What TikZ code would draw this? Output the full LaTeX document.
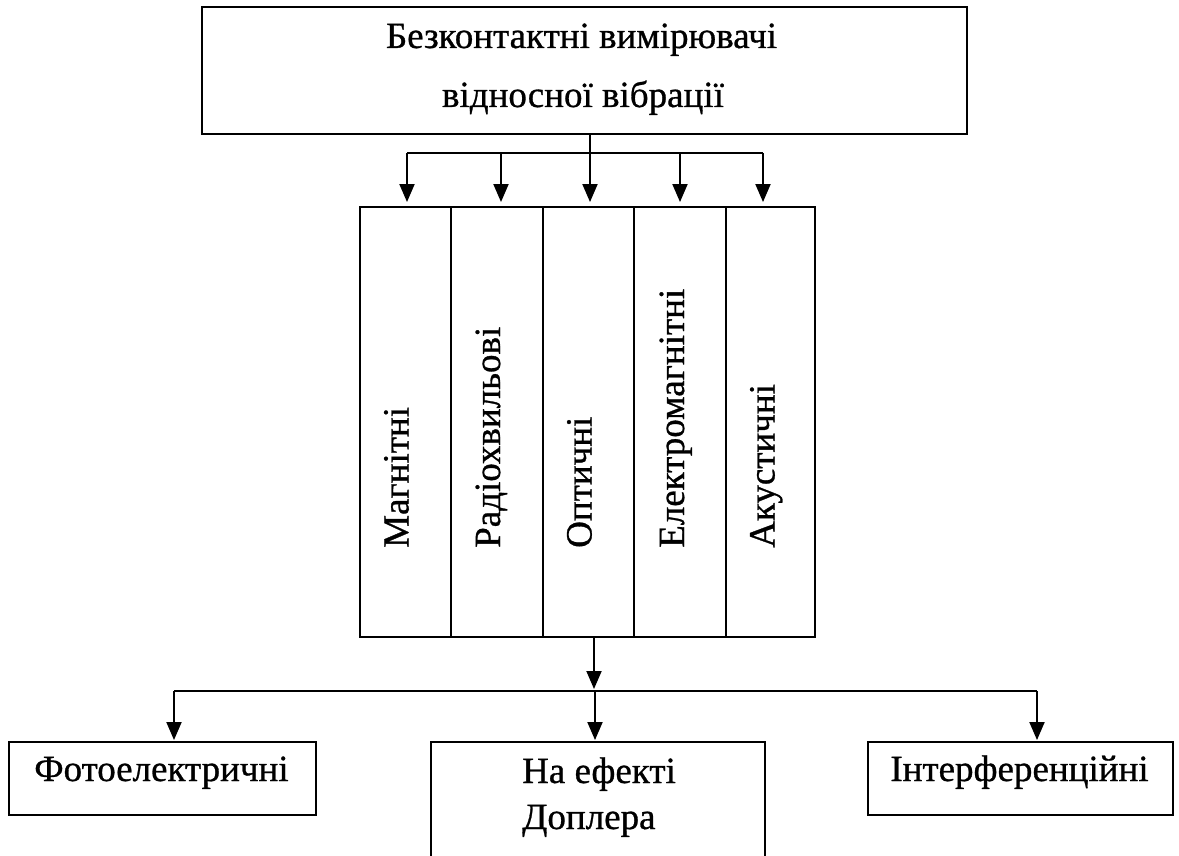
\documentclass[tikz,border=0pt]{standalone}
\usepackage{fontspec}
\setmainfont[FakeBold=0.8]{Liberation Serif}
\usetikzlibrary{arrows.meta}
\begin{document}
\begin{tikzpicture}[x=1pt,y=-1pt,
  box/.style={draw, line width=1.9pt, rectangle, inner sep=0pt},
  lbl/.style={font=\fontsize{37}{44}\selectfont, inner sep=0pt},
  vlbl/.style={lbl, rotate=90, anchor=base west},
  link/.style={line width=1.9pt},
  arr/.style={link, -{Triangle[width=15pt,length=18pt]}}
]
\clip (0,0) rectangle (1179,856);
\fill[white] (0,0) rectangle (1179,856);

% top heading box
\node[box, minimum width=765pt, minimum height=127pt] (top) at (584.5,70.5) {};
\node[lbl, anchor=base] (t1) at (581.5,48) {Безконтактні вимірювачі};
\node[lbl, anchor=base] (t2) at (583,107) {відносної вібрації};

% five vertical columns
\node[box, minimum width=91pt, minimum height=430pt] (c1) at (405.5,422) {};
\node[box, minimum width=92pt, minimum height=430pt] (c2) at (497,422) {};
\node[box, minimum width=91pt, minimum height=430pt] (c3) at (588.5,422) {};
\node[box, minimum width=92pt, minimum height=430pt] (c4) at (680,422) {};
\node[box, minimum width=89pt, minimum height=430pt] (c5) at (770.5,422) {};

\node[vlbl] (v1) at (408.5,548) {Магнітні};
\node[vlbl] (v2) at (500,548) {Радіохвильові};
\node[vlbl] (v3) at (591.5,548) {Оптичні};
\node[vlbl] (v4) at (684,548) {Електромагнітні};
\node[vlbl] (v5) at (774.5,548) {Акустичні};

% bottom boxes
\node[box, minimum width=307pt, minimum height=73pt] (fe) at (162.5,778.5) {};
\node[lbl, anchor=base] (fet) at (161.5,781) {Фотоелектричні};
\node[box, minimum width=334pt, minimum height=158pt] (dop) at (598,821) {};
\node[lbl, anchor=base west] (dop1) at (522,783) {На ефекті};
\node[lbl, anchor=base west] (dop2) at (522,829) {Доплера};
\node[box, minimum width=305pt, minimum height=73pt] (int) at (1020.5,778.5) {};
\node[lbl, anchor=base] (intt) at (1019.5,781) {Інтерференційні};

% fan-out from the heading to the columns
\coordinate (hub) at (590,153);
\coordinate (a1) at (407,153);
\coordinate (a2) at (501,153);
\coordinate (a3) at (590,153);
\coordinate (a4) at (680,153);
\coordinate (a5) at (763,153);
\draw[link] (top.south -| hub) -- (hub);
\draw[link] (a1) -- (a5);
\foreach \i in {1,...,5}{
  \draw[arr, shorten >=4pt] (a\i) -- (a\i |- c\i.north);
}

% fan-out from the columns to the bottom boxes
\coordinate (b0) at (594,691);
\coordinate (bl) at (174,691);
\coordinate (bm) at (595,691);
\coordinate (br) at (1037,691);
\draw[arr, shorten >=2pt] (b0 |- c3.south) -- (b0);
\draw[link] (bl) -- (br);
\draw[arr, shorten >=1pt] (bl) -- (bl |- fe.north);
\draw[arr, shorten >=1pt] (bm) -- (bm |- dop.north);
\draw[arr, shorten >=1pt] (br) -- (br |- int.north);
\end{tikzpicture}
\end{document}
